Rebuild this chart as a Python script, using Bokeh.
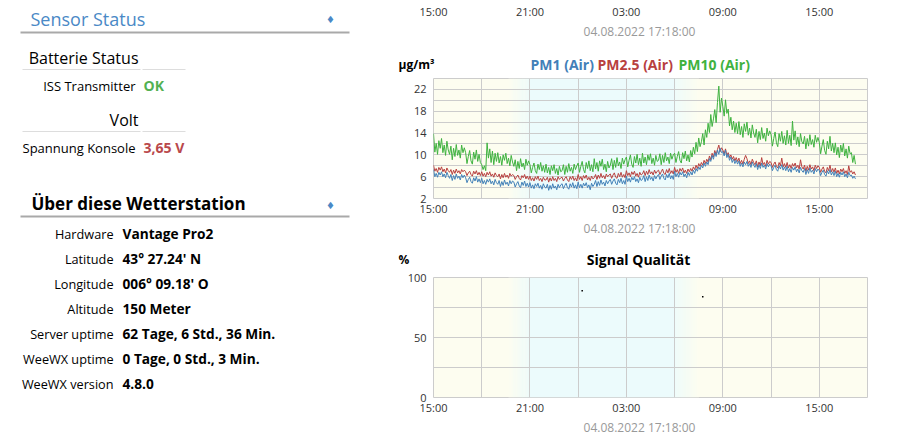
import pandas as pd
from bokeh.plotting import figure
from bokeh.models import Range1d, FixedTicker, DatetimeTickFormatter, ColumnDataSource
from bokeh.layouts import row, column
from bokeh.embed import file_html
from bokeh.resources import INLINE
from bokeh.core.properties import value

# ---------------- data ----------------
sensor_rows = ["ISS Transmitter"]
sensor_values = ["OK"]
volt_rows = ["Spannung Konsole"]
volt_values = ["3,65 V"]
about_labels = ["Hardware", "Latitude", "Longitude", "Altitude",
                "Server uptime", "WeeWX uptime", "WeeWX version"]
about_values = ["Vantage Pro2", "43° 27.24' N", "006° 09.18' O", "150 Meter",
                "62 Tage, 6 Std., 36 Min.", "0 Tage, 0 Std., 3 Min.", "4.8.0"]

start_time = "2022-08-03 15:00"
end_time = "2022-08-04 18:00"
tick_times = ["2022-08-03 15:00", "2022-08-03 21:00", "2022-08-04 03:00",
              "2022-08-04 09:00", "2022-08-04 15:00"]
grid_times = ["2022-08-03 15:00", "2022-08-03 18:00", "2022-08-03 21:00",
              "2022-08-04 00:00", "2022-08-04 03:00", "2022-08-04 06:00",
              "2022-08-04 09:00", "2022-08-04 12:00", "2022-08-04 15:00",
              "2022-08-04 18:00"]
sunset = ("2022-08-03 19:40", "2022-08-03 21:00")
sunrise = ("2022-08-04 06:00", "2022-08-04 07:30")
stamp = "04.08.2022 17:18:00"
prev_chart_top_tick = "20"
pm_titles = ["PM1 (Air)", "PM2.5 (Air)", "PM10 (Air)"]
pm_unit = "µg/m³"
sig_title = "Signal Qualität"
sig_unit = "%"

# 5-minute readings from 15:00 (one row per hour)
pm10 = [13.9, 10.5, 12.1, 10.1, 12.6, 11.2, 13.0, 10.4, 11.8, 9.9, 12.5, 10.9,
        10.1, 11.6, 9.1, 11.2, 9.7, 11.9, 9.9, 10.9, 9.4, 11.8, 10.4, 11.3,
        10.4, 8.4, 9.7, 10.8, 8.9, 8.3, 10.5, 9.2, 10.9, 8.8, 10.1, 8.6,
        8.2, 7.3, 8.0, 7.1, 12.2, 9.4, 11.1, 8.6, 10.7, 8.2, 10.3, 8.8,
        10.4, 8.5, 9.7, 8.1, 10.0, 9.0, 10.3, 8.4, 9.4, 8.0, 9.9, 8.7,
        7.9, 9.1, 7.1, 8.8, 7.5, 9.3, 7.8, 8.5, 7.3, 9.2, 8.1, 8.9,
        8.2, 6.7, 7.7, 8.5, 7.1, 6.6, 8.3, 7.3, 8.6, 7.0, 8.0, 6.8,
        8.3, 6.7, 7.7, 6.4, 8.0, 7.1, 8.2, 6.6, 7.5, 6.3, 7.9, 6.9,
        7.1, 8.2, 6.4, 7.9, 6.8, 8.4, 7.0, 7.7, 6.6, 8.3, 7.3, 8.0,
        8.5, 6.8, 7.9, 8.8, 7.3, 6.7, 8.6, 7.5, 8.9, 7.1, 8.2, 6.9,
        9.3, 7.4, 8.6, 7.0, 8.9, 7.9, 9.2, 7.3, 8.3, 6.9, 8.8, 7.6,
        8.1, 9.3, 7.3, 9.0, 7.7, 9.5, 8.0, 8.7, 7.5, 9.4, 8.3, 9.1,
        9.6, 7.8, 9.0, 10.0, 8.3, 7.7, 9.7, 8.5, 10.1, 8.2, 9.4, 7.9,
        10.3, 8.5, 9.6, 8.2, 10.0, 9.0, 10.2, 8.4, 9.4, 8.1, 9.9, 8.8,
        9.0, 10.2, 8.2, 9.9, 8.6, 10.4, 8.9, 9.6, 8.4, 10.3, 9.2, 10.0,
        10.3, 8.6, 9.7, 10.6, 9.0, 8.5, 10.4, 9.3, 10.7, 8.9, 10.0, 8.7,
        10.8, 9.6, 11.4, 10.2, 12.3, 10.6, 13.1, 11.5, 12.4, 13.9, 11.8, 14.6,
        13.2, 15.8, 14.1, 17.4, 15.2, 16.6, 18.3, 15.9, 19.6, 22.6, 17.8, 20.4,
        18.9, 17.1, 20.1, 17.6, 18.4, 15.3, 16.9, 14.6, 16.2, 14.1, 15.8, 13.9,
        16.1, 13.7, 15.2, 13.2, 15.7, 14.3, 16.0, 13.6, 14.9, 13.1, 15.5, 14.0,
        13.2, 14.7, 12.2, 14.3, 12.8, 15.0, 13.0, 14.0, 12.5, 14.9, 13.5, 14.4,
        13.7, 11.6, 13.0, 14.2, 12.2, 11.5, 13.9, 12.5, 14.3, 12.1, 13.5, 11.8,
        14.5, 12.1, 13.6, 11.7, 16.2, 12.7, 14.4, 11.9, 13.3, 11.5, 13.9, 12.4,
        12.0, 13.4, 11.1, 13.0, 11.6, 13.7, 11.9, 12.8, 11.4, 13.6, 12.3, 13.2,
        12.3, 10.2, 11.6, 12.8, 10.8, 10.1, 12.5, 11.1, 13.4, 10.7, 12.1, 10.4,
        12.2, 10.0, 11.4, 9.5, 11.8, 10.5, 12.1, 9.8, 11.1, 9.4, 11.6, 10.2,
        10.4, 8.6, 9.9, 8.3]
pm25 = [8.1, 7.0, 7.5, 6.8, 7.7, 7.2, 7.8, 6.9, 7.4, 6.7, 7.6, 7.1,
        6.8, 7.3, 6.4, 7.2, 6.6, 7.4, 6.7, 7.1, 6.5, 7.3, 6.9, 7.2,
        6.9, 6.2, 6.7, 7.0, 6.4, 6.1, 7.0, 6.5, 7.1, 6.3, 6.8, 6.2,
        6.9, 6.1, 6.6, 6.0, 6.8, 6.3, 6.9, 6.1, 6.5, 5.9, 6.7, 6.2,
        6.0, 6.5, 5.6, 6.4, 5.8, 6.6, 5.9, 6.3, 5.7, 6.6, 6.1, 6.4,
        6.2, 5.5, 6.0, 6.3, 5.7, 5.4, 6.2, 5.8, 6.4, 5.6, 6.1, 5.5,
        6.1, 5.3, 5.8, 5.2, 6.0, 5.5, 6.1, 5.3, 5.7, 5.1, 5.9, 5.4,
        5.4, 5.9, 5.0, 5.8, 5.2, 6.0, 5.3, 5.7, 5.1, 6.0, 5.5, 5.8,
        5.9, 5.2, 5.7, 6.0, 5.4, 5.1, 6.0, 5.5, 6.1, 5.3, 5.8, 5.2,
        6.4, 5.5, 6.0, 5.3, 6.2, 5.7, 6.3, 5.4, 5.9, 5.3, 6.1, 5.6,
        5.8, 6.4, 5.5, 6.3, 5.7, 6.6, 5.8, 6.2, 5.6, 6.5, 6.0, 6.3,
        6.5, 5.7, 6.3, 6.7, 5.9, 5.7, 6.6, 6.0, 6.8, 5.9, 6.4, 5.8,
        7.1, 6.2, 6.7, 6.0, 6.9, 6.4, 7.0, 6.1, 6.6, 5.9, 6.8, 6.3,
        6.5, 7.1, 6.2, 7.0, 6.4, 7.3, 6.5, 6.9, 6.3, 7.2, 6.6, 7.0,
        7.2, 6.4, 6.9, 7.4, 6.6, 6.4, 7.3, 6.7, 7.5, 6.6, 7.1, 6.5,
        7.7, 6.8, 7.3, 6.6, 7.5, 7.0, 7.6, 6.7, 7.2, 6.6, 7.4, 6.9,
        7.5, 7.0, 7.8, 7.3, 8.1, 7.5, 8.4, 7.9, 8.6, 8.1, 9.0, 8.4,
        9.2, 8.7, 9.8, 9.1, 10.3, 9.6, 10.8, 10.0, 11.0, 11.8, 10.6, 11.3,
        10.9, 10.2, 11.1, 9.9, 10.4, 9.5, 10.0, 9.2, 9.7, 8.9, 9.5, 8.8,
        9.4, 8.4, 9.0, 8.3, 9.2, 9.9, 9.3, 8.4, 8.9, 8.2, 9.2, 8.6,
        8.2, 8.9, 7.8, 8.7, 8.0, 9.5, 8.2, 8.6, 7.9, 9.0, 8.3, 8.8,
        8.6, 7.7, 8.3, 8.7, 7.9, 7.6, 8.6, 8.0, 9.4, 7.8, 8.4, 7.7,
        8.6, 7.6, 8.2, 7.5, 8.4, 7.9, 8.5, 7.6, 8.1, 7.4, 9.1, 7.8,
        7.4, 8.1, 7.0, 7.9, 7.2, 8.2, 7.4, 7.8, 7.1, 8.1, 7.5, 8.0,
        7.7, 6.8, 7.4, 7.8, 7.0, 6.7, 7.7, 7.1, 8.1, 6.9, 7.5, 6.8,
        7.6, 6.6, 7.2, 6.5, 7.4, 6.9, 7.5, 6.6, 7.1, 6.4, 8.0, 6.8,
        7.1, 6.5, 6.9, 6.3]
pm1 = [7.3, 6.0, 6.6, 5.9, 6.8, 6.3, 6.9, 6.0, 6.5, 5.8, 6.8, 6.2,
       5.7, 6.4, 5.3, 6.2, 5.5, 6.5, 5.7, 6.1, 5.4, 6.4, 5.8, 6.3,
       5.8, 4.9, 5.5, 5.9, 5.1, 4.8, 5.8, 5.2, 6.0, 5.0, 5.6, 4.9,
       5.7, 4.7, 5.3, 4.6, 5.5, 5.0, 5.6, 4.7, 5.2, 4.5, 5.5, 4.9,
       4.6, 5.3, 4.2, 5.1, 4.4, 5.4, 4.6, 5.0, 4.3, 5.3, 4.7, 5.2,
       5.0, 4.1, 4.7, 5.1, 4.3, 4.0, 5.0, 4.4, 5.2, 4.2, 4.8, 4.1,
       4.9, 3.9, 4.5, 3.8, 4.7, 4.2, 4.8, 3.9, 4.4, 3.7, 4.7, 4.1,
       3.9, 4.6, 3.5, 4.4, 3.7, 4.7, 3.9, 4.3, 3.6, 4.6, 4.0, 4.5,
       4.7, 3.8, 4.4, 4.8, 4.0, 3.7, 4.7, 4.1, 4.9, 3.9, 4.5, 3.8,
       5.0, 4.0, 4.6, 3.9, 4.8, 4.3, 4.9, 4.0, 4.5, 3.6, 4.8, 4.2,
       4.6, 5.3, 4.2, 5.1, 4.4, 5.4, 4.6, 5.0, 4.3, 5.3, 4.7, 5.2,
       5.5, 4.6, 5.2, 5.6, 4.8, 4.5, 5.5, 4.9, 5.7, 4.7, 5.3, 4.6,
       6.1, 5.1, 5.7, 5.0, 5.9, 5.4, 6.0, 5.1, 5.6, 4.9, 5.9, 5.3,
       5.5, 6.2, 5.1, 6.0, 5.3, 6.3, 5.5, 5.9, 5.2, 6.2, 5.6, 6.1,
       6.4, 5.5, 6.1, 6.5, 5.7, 5.4, 6.4, 5.8, 6.6, 5.6, 6.2, 5.5,
       7.0, 6.0, 6.6, 5.9, 6.8, 6.3, 6.9, 6.0, 6.5, 5.8, 6.8, 6.2,
       6.9, 6.3, 7.2, 6.6, 7.5, 7.0, 7.8, 7.3, 8.1, 7.6, 8.5, 7.9,
       8.7, 8.2, 9.3, 8.8, 9.9, 9.2, 10.4, 9.7, 10.9, 10.1, 11.2, 10.4,
       10.6, 9.8, 10.9, 9.5, 10.1, 9.0, 9.6, 8.6, 9.2, 8.4, 9.0, 8.3,
       8.9, 7.9, 8.5, 7.8, 8.7, 8.2, 8.8, 7.9, 8.4, 7.7, 8.7, 8.1,
       7.7, 8.4, 7.3, 8.2, 7.5, 8.5, 7.7, 8.1, 7.4, 8.4, 7.8, 8.3,
       8.0, 7.1, 7.7, 8.1, 7.3, 7.0, 8.0, 7.4, 8.2, 7.2, 7.8, 7.1,
       7.9, 6.9, 7.5, 6.8, 7.7, 7.2, 7.8, 6.9, 7.4, 6.7, 7.7, 7.1,
       6.8, 7.5, 6.4, 7.3, 6.6, 7.6, 6.8, 7.2, 6.5, 7.5, 6.9, 7.4,
       7.1, 6.2, 6.8, 7.2, 6.4, 6.1, 7.1, 6.5, 7.3, 6.3, 6.9, 6.2,
       7.0, 6.0, 6.6, 5.9, 6.8, 6.3, 6.9, 6.0, 6.5, 5.8, 6.8, 6.2,
       6.3, 5.7, 6.1, 5.6]
signal_times = ["2022-08-04 00:15", "2022-08-04 07:45"]
signal_values = [89, 84]

# ---------------- styles ----------------
FONT = "Open Sans"
C_PM1 = "#4280b8"
C_PM25 = "#b8403f"
C_PM10 = "#3fb23f"
DAY = (253, 253, 240)
NIGHT = (236, 251, 252)
GRID = "#cccccc"
STAMP_C = "#999999"
W_RIGHT = 515

ts = lambda s: pd.Timestamp(s)


def series_times(vals):
    return pd.date_range(ts(start_time), periods=len(vals), freq="5min")


def hexc(c):
    return "#%02x%02x%02x" % tuple(int(round(v)) for v in c)


def background(p, ylo, yhi):
    p.background_fill_color = hexc(DAY)
    lefts, rights, cols = [], [], []
    n = 24
    for (a, b), rev in ((sunset, False), (sunrise, True)):
        ta, tb = ts(a), ts(b)
        step = (tb - ta) / n
        for i in range(n):
            f = (i + 0.5) / n
            if rev:
                f = 1 - f
            c = tuple(DAY[k] + (NIGHT[k] - DAY[k]) * f for k in range(3))
            lefts.append(ta + step * i)
            rights.append(ta + step * (i + 1) + pd.Timedelta("30s"))
            cols.append(hexc(c))
    lefts.append(ts(sunset[1]))
    rights.append(ts(sunrise[0]))
    cols.append(hexc(NIGHT))
    src = ColumnDataSource(dict(left=lefts, right=rights, color=cols,
                                bottom=[ylo] * len(cols), top=[yhi] * len(cols)))
    r = p.quad(left="left", right="right", bottom="bottom", top="top",
               fill_color="color", line_color=None, source=src)
    r.level = "image"


def style_axes(p):
    p.outline_line_color = GRID
    p.border_fill_color = "white"
    for ax in p.axis:
        ax.axis_line_color = None
        ax.major_tick_line_color = None
        ax.minor_tick_line_color = None
        ax.major_tick_out = 0
        ax.major_tick_in = 0
        ax.minor_tick_out = 0
        ax.major_label_text_font = FONT
        ax.major_label_text_font_size = "11px"
        ax.major_label_text_color = "#333333"
    for ax in p.yaxis:
        ax.major_label_standoff = 7
    p.grid.grid_line_color = GRID
    p.grid.grid_line_alpha = 1.0


fmt = DatetimeTickFormatter(hours="%H:%M", hourmin="%H:%M", days="%H:%M",
                            minutes="%H:%M", minsec="%H:%M")
tick_ms = [ts(t).timestamp() * 1000 for t in tick_times]
grid_ms = [ts(t).timestamp() * 1000 for t in grid_times]
xr = Range1d(ts(start_time), ts(end_time))


def strip(y0, h):
    s = figure(width=W_RIGHT, height=h, x_range=Range1d(380, 380 + W_RIGHT),
               y_range=Range1d(y0 + h, y0), x_axis_location=None, y_axis_location=None,
               output_backend="svg", toolbar_location=None, min_border=0)
    s.frame_align = False
    s.grid.visible = False
    s.outline_line_color = None
    return s


def stext(p, x, y, s, size, color="black", bold=False, align="left", font=FONT):
    p.text(x=[x], y=[y], text=[s], text_font=value(font), text_font_size=size,
           text_color=color, text_font_style="bold" if bold else "normal",
           text_align=align, text_baseline="middle")


def chart(height, yr, top_b, bottom_b):
    p = figure(width=W_RIGHT, height=height, x_axis_type="datetime", x_range=xr,
               y_range=yr, output_backend="svg", toolbar_location=None,
               min_border_left=53, min_border_right=28, min_border_top=top_b,
               min_border_bottom=bottom_b)
    p.xaxis.ticker = FixedTicker(ticks=tick_ms)
    p.xaxis.formatter = fmt
    return p


# ---------------- left panel ----------------
left = figure(width=380, height=440, x_range=Range1d(0, 380), y_range=Range1d(440, 0),
              x_axis_location=None, y_axis_location=None, output_backend="svg",
              toolbar_location=None, min_border=0)
left.grid.visible = False
left.outline_line_color = None

BLUE = "#4a89c6"
stext(left, 30, 18, "Sensor Status", "18px", BLUE)
stext(left, 330, 19, "\u2666", "10px", BLUE, align="center", font="DejaVu Sans")
left.segment(x0=[20, 20], y0=[32, 216], x1=[349, 349], y1=[32, 216],
             line_color="#a9a9a9", line_width=2)
stext(left, 138, 57, "Batterie Status", "16px", align="right")
stext(left, 138, 119, "Volt", "16px", align="right")
left.segment(x0=[22, 142, 22, 142], y0=[69, 69, 131, 131],
             x1=[140, 185, 140, 185], y1=[69, 69, 131, 131],
             line_color="#dddddd", line_width=1)
for i, (lbl, val) in enumerate(zip(sensor_rows, sensor_values)):
    stext(left, 135, 85 + 25 * i, lbl, "13px", align="right")
    stext(left, 143, 85 + 25 * i, val, "14px", "#52b152", bold=True)
for i, (lbl, val) in enumerate(zip(volt_rows, volt_values)):
    stext(left, 135, 147 + 25 * i, lbl, "13px", align="right")
    stext(left, 143, 147 + 25 * i, val, "14px", "#b9484b", bold=True)
stext(left, 31, 203, "Über diese Wetterstation", "17px", bold=True)
stext(left, 330, 205, "\u2666", "10px", BLUE, align="center", font="DejaVu Sans")
for i, (lbl, val) in enumerate(zip(about_labels, about_values)):
    stext(left, 113, 233 + 25 * i, lbl, "12.7px", align="right")
    stext(left, 122, 233 + 25 * i, val, "13.7px", bold=True)

# ---------------- cut-off chart above (only its lowest part is visible) ----------------
cut = strip(0, 3)
stext(cut, 426, 0, prev_chart_top_tick, "11px", "#333333", align="right")

top = chart(18, Range1d(0, 1), 0, 17)
style_axes(top)
top.grid.visible = False
top.outline_line_color = None
top.yaxis.visible = False
top.xaxis.major_label_standoff = 0

# ---------------- PM chart ----------------
head1 = strip(21, 55)
stext(head1, 639, 31, stamp, "12px", STAMP_C, align="center")
stext(head1, 398, 64, pm_unit, "12px", bold=True)
for xx, txt, col in zip([530, 597, 678], pm_titles, [C_PM1, C_PM25, C_PM10]):
    stext(head1, xx, 64, txt, "14px", col, bold=True)

pm = chart(142, Range1d(2, 24), 2, 20)
background(pm, 2, 24)
pm.line(series_times(pm25), pm25, line_color=C_PM25, line_width=1)
pm.line(series_times(pm1), pm1, line_color=C_PM1, line_width=1)
pm.line(series_times(pm10), pm10, line_color=C_PM10, line_width=1)
pm.xgrid.ticker = FixedTicker(ticks=grid_ms)
pm.yaxis.ticker = FixedTicker(ticks=[2, 6, 10, 14, 18, 22])
pm.ygrid.ticker = FixedTicker(ticks=list(range(2, 25, 2)))
style_axes(pm)
pm.xaxis.major_label_standoff = 2

# ---------------- Signal chart ----------------
head2 = strip(218, 52)
stext(head2, 639, 228, stamp, "12px", STAMP_C, align="center")
stext(head2, 398, 259, sig_unit, "12px", bold=True)
stext(head2, 638, 259, sig_title, "14px", bold=True, align="center")

sg = chart(147, Range1d(0, 100), 7, 20)
background(sg, 0, 100)
sg.scatter(x=[ts(s) for s in signal_times], y=signal_values, size=1.5,
           marker="square", fill_color="black", line_color=None)
sg.xgrid.ticker = FixedTicker(ticks=grid_ms)
sg.yaxis.ticker = FixedTicker(ticks=[0, 50, 100])
sg.ygrid.ticker = FixedTicker(ticks=[0, 25, 50, 75, 100])
style_axes(sg)
sg.xaxis.major_label_standoff = 2

tail = strip(417, 23)
stext(tail, 639, 427, stamp, "12px", STAMP_C, align="center")

layout = row(left, column(cut, top, head1, pm, head2, sg, tail))
open("out.html", "w").write(file_html(layout, INLINE))
